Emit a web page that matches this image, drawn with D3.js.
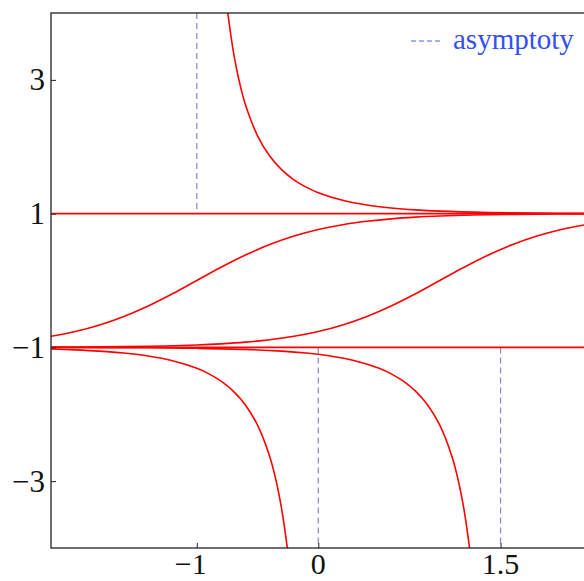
<!DOCTYPE html>
<html>
<head>
<meta charset="utf-8">
<script src="https://cdn.jsdelivr.net/npm/d3@7"></script>
<style>
  html, body { margin: 0; padding: 0; background: #fff; }
  svg { display: block; }
  text { font-family: "Liberation Serif", "Times New Roman", serif; }
</style>
</head>
<body>
<svg id="chart" width="584" height="581"></svg>
<script>
// Solutions of y' = 1 - y^2, sampled as [x, y] pairs
const tanhLeft = [
  [-2.2, -0.834], [-2.0, -0.762], [-1.8, -0.664], [-1.6, -0.537], [-1.4, -0.380],
  [-1.2, -0.197], [-1.0, 0.000], [-0.8, 0.197], [-0.6, 0.380], [-0.4, 0.537],
  [-0.2, 0.664], [0.0, 0.762], [0.2, 0.834], [0.4, 0.885], [0.6, 0.922],
  [0.8, 0.947], [1.0, 0.964], [1.2, 0.976], [1.4, 0.984], [1.6, 0.989],
  [1.8, 0.993], [2.0, 0.995], [2.2, 0.997]
];
const tanhRight = [
  [-2.2, -0.997], [-1.8, -0.993], [-1.4, -0.984], [-1.0, -0.964], [-0.8, -0.947],
  [-0.6, -0.922], [-0.4, -0.885], [-0.2, -0.834], [0.0, -0.762], [0.2, -0.664],
  [0.4, -0.537], [0.6, -0.380], [0.8, -0.197], [1.0, 0.000], [1.2, 0.197],
  [1.4, 0.380], [1.6, 0.537], [1.8, 0.664], [2.0, 0.762], [2.2, 0.834]
];
const cothUpper = [
  [-0.745, 4.0], [-0.7, 3.433], [-0.65, 2.973], [-0.6, 2.632], [-0.5, 2.164],
  [-0.4, 1.862], [-0.3, 1.655], [-0.2, 1.506], [-0.1, 1.396], [0.0, 1.313],
  [0.2, 1.200], [0.4, 1.129], [0.6, 1.085], [0.8, 1.056], [1.0, 1.037],
  [1.4, 1.017], [1.8, 1.007], [2.2, 1.003]
];
const cothMiddle = [
  [-2.2, -1.025], [-2.0, -1.037], [-1.8, -1.056], [-1.6, -1.085], [-1.4, -1.129],
  [-1.2, -1.200], [-1.0, -1.313], [-0.9, -1.396], [-0.8, -1.506], [-0.7, -1.655],
  [-0.6, -1.862], [-0.5, -2.164], [-0.4, -2.632], [-0.35, -2.973], [-0.3, -3.433],
  [-0.255, -4.0]
];
const cothLower = [
  [-2.2, -1.001], [-1.8, -1.003], [-1.4, -1.006], [-1.0, -1.014], [-0.6, -1.030],
  [-0.3, -1.056], [-0.1, -1.085], [0.1, -1.129], [0.3, -1.200], [0.5, -1.313],
  [0.6, -1.396], [0.7, -1.506], [0.8, -1.655], [0.9, -1.862], [1.0, -2.164],
  [1.1, -2.632], [1.15, -2.973], [1.2, -3.433], [1.245, -4.0]
];
const constantLevels = [1, -1];

// Vertical asymptotes: x position and the y-span the dashed line covers
const asymptotes = [
  { x: -1, y0: 4, y1: 1 },
  { x: 0, y0: -1, y1: -4 },
  { x: 1.5, y0: -1, y1: -4 }
];

const xTicks = [-1, 0, 1.5];
const yTicks = [3, 1, -1, -3];
const xDomain = [-2.2, 2.2];
const yDomain = [-4, 4];
const legendLabel = "asymptoty";

const svg = d3.select("#chart");
const padLeft = 51, padTop = 13, padBottom = 548;
const unitX = 121.5;
const padRight = padLeft + (xDomain[1] - xDomain[0]) * unitX;

const x = d3.scaleLinear().domain(xDomain).range([padLeft, padRight]);
const y = d3.scaleLinear().domain(yDomain).range([padBottom, padTop]);

const fmt = v => (v < 0 ? "\u2212" + Math.abs(v) : String(v));

svg.append("defs").append("clipPath").attr("id", "plot")
  .append("rect").attr("x", padLeft).attr("y", padTop)
  .attr("width", padRight - padLeft).attr("height", padBottom - padTop);

const plot = svg.append("g").attr("clip-path", "url(#plot)");

// Asymptotes
plot.selectAll("line.asym").data(asymptotes).join("line")
  .attr("class", "asym")
  .attr("x1", d => x(d.x)).attr("x2", d => x(d.x))
  .attr("y1", d => y(d.y0)).attr("y2", d => y(d.y1))
  .attr("stroke", "#8585c8").attr("stroke-width", 1.2)
  .attr("stroke-dasharray", "6,4");

// Solution curves
const line = d3.line().x(d => x(d[0])).y(d => y(d[1])).curve(d3.curveCatmullRom.alpha(0.5));
const curves = [tanhLeft, tanhRight, cothUpper, cothMiddle, cothLower];
plot.selectAll("path.sol").data(curves).join("path")
  .attr("class", "sol")
  .attr("d", line)
  .attr("fill", "none").attr("stroke", "#ff0000").attr("stroke-width", 1.6);

plot.selectAll("line.level").data(constantLevels).join("line")
  .attr("class", "level")
  .attr("x1", x(xDomain[0])).attr("x2", x(xDomain[1]))
  .attr("y1", d => y(d)).attr("y2", d => y(d))
  .attr("stroke", "#ff0000").attr("stroke-width", 1.6);

// Frame
svg.append("rect")
  .attr("x", padLeft).attr("y", padTop)
  .attr("width", padRight - padLeft).attr("height", padBottom - padTop)
  .attr("fill", "none").attr("stroke", "#222").attr("stroke-width", 1.3);

// Axes with short inward ticks
const yAxis = svg.append("g").attr("transform", `translate(${padLeft},0)`)
  .call(d3.axisRight(y).tickValues(yTicks).tickSize(5).tickFormat(""));
yAxis.select(".domain").remove();
yAxis.selectAll("line").attr("stroke", "#222");

svg.append("g").selectAll("text").data(yTicks).join("text")
  .attr("x", padLeft - 6).attr("y", d => y(d))
  .attr("dy", "0.34em")
  .attr("text-anchor", "end")
  .attr("font-size", 31).attr("fill", "#111")
  .text(fmt);

const xAxis = svg.append("g").attr("transform", `translate(0,${padBottom})`)
  .call(d3.axisTop(x).tickValues(xTicks).tickSize(5).tickFormat(""));
xAxis.select(".domain").remove();
xAxis.selectAll("line").attr("stroke", "#222");

svg.append("g").selectAll("text").data(xTicks).join("text")
  .attr("x", d => x(d) - (d < 0 ? 6 : 0)).attr("y", 574)
  .attr("text-anchor", "middle")
  .attr("font-size", 30).attr("fill", "#111")
  .text(fmt);

// Legend
const legend = svg.append("g");
legend.append("line")
  .attr("x1", 411).attr("x2", 442).attr("y1", 41).attr("y2", 41)
  .attr("stroke", "#4a63ff").attr("stroke-width", 1.2)
  .attr("stroke-dasharray", "5,3");
legend.append("text")
  .attr("x", 453).attr("y", 49)
  .attr("font-size", 29).attr("fill", "#3550f0")
  .text(legendLabel);
</script>
</body>
</html>
